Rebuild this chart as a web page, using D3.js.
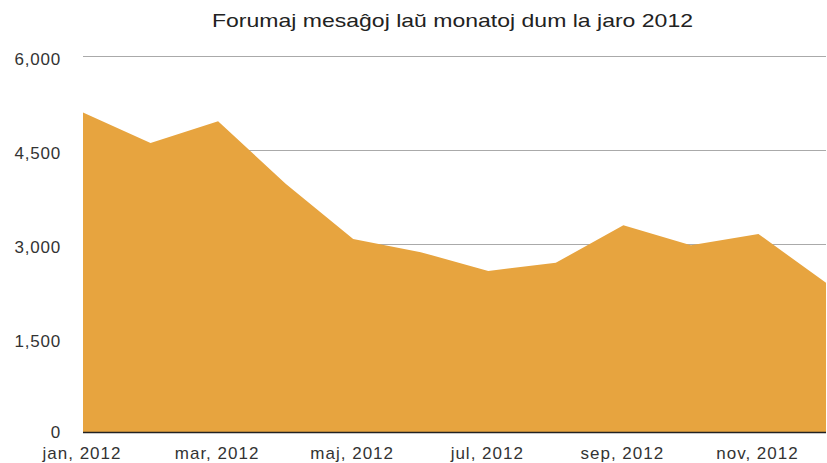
<!DOCTYPE html>
<html>
<head>
<meta charset="utf-8">
<script src="https://cdn.jsdelivr.net/npm/d3@7"></script>
<style>
  body { margin: 0; background: #fff; }
  svg text { font-family: "Liberation Sans", Arial, sans-serif; }
</style>
</head>
<body>
<div id="chart"></div>
<script>
const title = "Forumaj mesaĝoj laŭ monatoj dum la jaro 2012"
const months = ["jan", "feb", "mar", "apr", "maj", "jun", "jul", "aŭg", "sep", "okt", "nov", "dec"]
const messages = [5100, 4610, 4960, 3960, 3080, 2870, 2570, 2700, 3300, 2980, 3160, 2380]
const yTicks = [0, 1500, 3000, 4500, 6000]
const year = 2012

const width = 827, height = 463
const margin = { top: 56, right: 1, bottom: 31, left: 83 }

const svg = d3.select("#chart").append("svg")
  .attr("width", width)
  .attr("height", height)

const x = d3.scaleLinear().domain([0, months.length - 1]).range([margin.left, width - margin.right])
const y = d3.scaleLinear().domain([0, 6000]).range([height - margin.bottom, margin.top])

// grid
svg.append("g")
  .selectAll("line")
  .data(yTicks.filter(d => d > 0))
  .enter().append("line")
    .attr("x1", margin.left)
    .attr("x2", width - margin.right)
    .attr("y1", d => Math.round(y(d)) + 0.5)
    .attr("y2", d => Math.round(y(d)) + 0.5)
    .attr("stroke", "#aaa")
    .attr("stroke-width", 1.2)

// area
const area = d3.area()
  .x((d, i) => x(i))
  .y0(y(0))
  .y1(d => y(d))

svg.append("path")
  .datum(messages)
  .attr("d", area)
  .attr("fill", "#e7a43f")

// baseline
svg.append("line")
  .attr("x1", margin.left)
  .attr("x2", width - margin.right)
  .attr("y1", y(0) + 0.5)
  .attr("y2", y(0) + 0.5)
  .attr("stroke", "#222")
  .attr("stroke-width", 1.5)

// y labels
svg.append("g")
  .selectAll("text")
  .data(yTicks)
  .enter().append("text")
    .attr("x", 61)
    .attr("y", d => d === 0 ? y(d) + 6 : y(d) + 9)
    .attr("text-anchor", "end")
    .style("font-size", "17px")
    .style("letter-spacing", "0.8px")
    .style("fill", "#333")
    .text(d => d3.format(",")(d))

// x labels
svg.append("g")
  .selectAll("text")
  .data(months.map((m, i) => ({ m, i })).filter(d => d.i % 2 === 0))
  .enter().append("text")
    .attr("x", d => x(d.i) - 1)
    .attr("y", 459)
    .attr("text-anchor", "middle")
    .style("font-size", "17px")
    .style("letter-spacing", "1px")
    .style("fill", "#333")
    .text(d => d.m + ", " + year)

// title
svg.append("text")
  .attr("x", 212)
  .attr("y", 27)
  .attr("textLength", 481)
  .attr("lengthAdjust", "spacingAndGlyphs")
  .style("font-size", "19px")
  .style("fill", "#222")
  .text(title)
</script>
</body>
</html>
